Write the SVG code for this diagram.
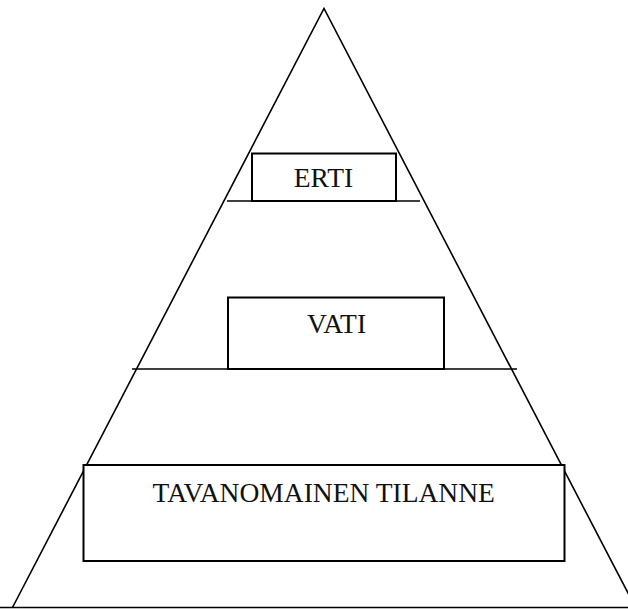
<svg xmlns="http://www.w3.org/2000/svg" width="628" height="610" viewBox="0 0 628 610">
<style>
.ln{stroke:#000;stroke-width:1.6;fill:none}
.box{stroke:#000;stroke-width:2;fill:#fff}
.t{font-family:"Liberation Serif","Times New Roman",serif;font-size:27.5px;fill:#111;text-anchor:middle}
</style>
<rect width="628" height="610" fill="#fff"/>
<g id="connectors">
<polyline class="ln" points="12.5,607.5 324,8.5 635.5,607.5"/>
<line class="ln" x1="0" y1="607.5" x2="628" y2="607.5"/>
<line class="ln" x1="227" y1="201" x2="420" y2="201"/>
<line class="ln" x1="132" y1="369" x2="517" y2="369"/>
</g>
<g id="erti">
<rect class="box" x="252" y="153.5" width="144" height="47.5"/>
<text class="t" x="323.5" y="186.5">ERTI</text>
</g>
<g id="vati">
<rect class="box" x="228" y="297.5" width="216" height="71.5"/>
<text class="t" x="336.5" y="333">VATI</text>
</g>
<g id="tavanomainen">
<rect class="box" x="83.5" y="465" width="481" height="96"/>
<text class="t" x="323.7" y="501.5">TAVANOMAINEN TILANNE</text>
</g>
</svg>
